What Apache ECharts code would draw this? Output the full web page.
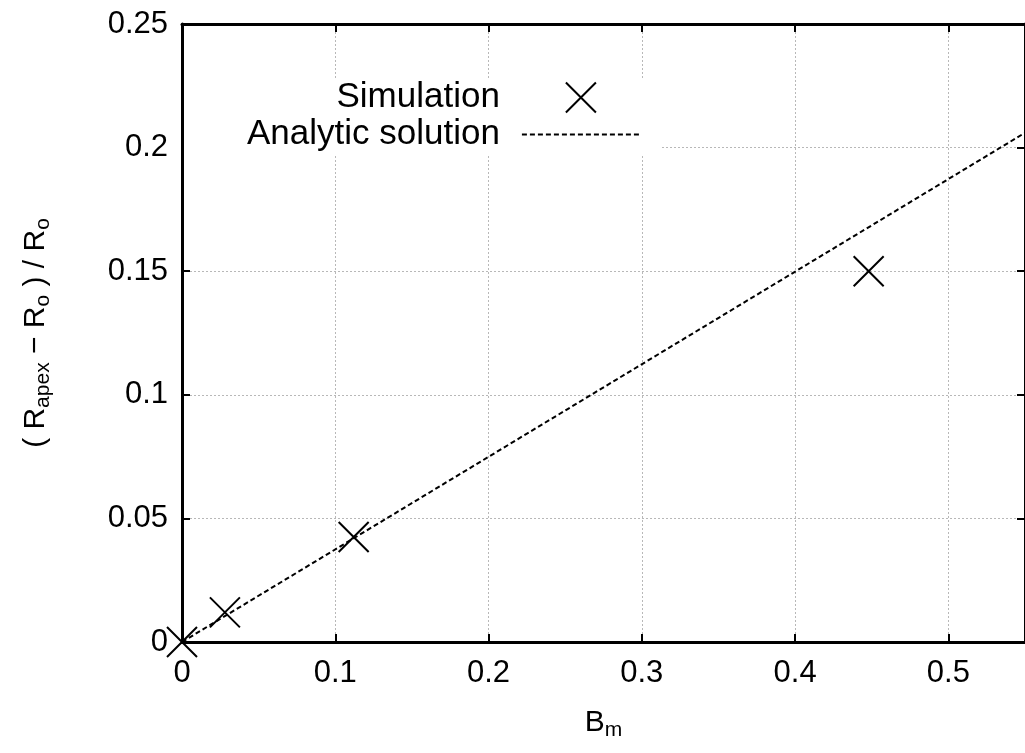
<!DOCTYPE html>
<html>
<head>
<meta charset="utf-8">
<script src="https://cdn.jsdelivr.net/npm/echarts@6/dist/echarts.min.js"></script>
<style>html,body{margin:0;padding:0;background:#fff;}#c{width:1025px;height:753px;}</style>
</head>
<body>
<div id="c"></div>
<script>
// Data
const simX = [0, 0.028, 0.112, 0.448];
const simY = [0, 0.012, 0.0425, 0.150];
const anaX = [0, 0.55];
const anaY = [0, 0.206];
const xTicks = [0, 0.1, 0.2, 0.3, 0.4, 0.5];
const yTicks = [0, 0.05, 0.1, 0.15, 0.2, 0.25];

const FONT = 'Liberation Sans, Arial, Helvetica, sans-serif';
const chart = echarts.init(document.getElementById('c'), null, {renderer: 'canvas'});

const simData = simX.map((x, i) => [x, simY[i]]);
const anaData = anaX.map((x, i) => [x, anaY[i]]);

const tickFmt = v => String(+v.toFixed(4));

const axisCommon = {
  type: 'value',
  axisLine: {show: true, onZero: false, lineStyle: {color: '#000', width: 3}},
  axisTick: {show: true, inside: true, length: 8, lineStyle: {color: '#000', width: 2}},
};

const option = {
  animation: false,
  backgroundColor: '#fff',
  grid: {left: 182, top: 24, bottom: 111, right: -5.5, containLabel: false},
  legend: {
    orient: 'vertical',
    align: 'right',
    left: 184,
    top: 80,
    padding: [0, 20, 2, 63],
    backgroundColor: '#fff',
    itemWidth: 118,
    itemHeight: 30,
    itemGap: 2,
    textStyle: {fontFamily: FONT, fontSize: 35, lineHeight: 30, color: '#000', padding: [0, 17, 0, 0]},
    data: [
      {name: 'Simulation'},
      {name: 'Analytic solution', itemStyle: {color: 'transparent', borderColor: 'transparent', borderWidth: 0}}
    ]
  },
  xAxis: [
    Object.assign({}, axisCommon, {
      position: 'bottom',
      min: 0, max: 0.55, interval: 0.1,
      name: '{n|B}{s|m}',
      nameLocation: 'middle',
      nameGap: 62,
      nameTextStyle: {
        rich: {
          n: {fontFamily: FONT, fontSize: 30, color: '#000'},
          s: {fontFamily: FONT, fontSize: 21, color: '#000', padding: [16, 0, 0, 0]}
        }
      },
      axisLabel: {showMaxLabel: false, margin: 16, fontFamily: FONT, fontSize: 31, color: '#000', formatter: tickFmt},
      splitLine: {show: true, lineStyle: {color: '#b8b8b8', width: 1, type: [2, 2]}}
    }),
    Object.assign({}, axisCommon, {
      position: 'top',
      min: 0, max: 0.55, interval: 0.1,
      axisLabel: {show: false},
      splitLine: {show: false}
    })
  ],
  yAxis: [
    Object.assign({}, axisCommon, {
      position: 'left',
      min: 0, max: 0.25, interval: 0.05,
      name: '( R{s|apex} − R{s|o} ) / R{s|o}',
      nameLocation: 'middle',
      nameGap: 128,
      nameTextStyle: {
        fontFamily: FONT, fontSize: 30, color: '#000',
        rich: {
          s: {fontFamily: FONT, fontSize: 21, color: '#000', padding: [16, 0, 0, 0]}
        }
      },
      axisLabel: {margin: 14, fontFamily: FONT, fontSize: 31, color: '#000', formatter: tickFmt},
      splitLine: {show: true, lineStyle: {color: '#b8b8b8', width: 1, type: [2, 2]}}
    }),
    Object.assign({}, axisCommon, {
      position: 'right',
      min: 0, max: 0.25, interval: 0.05,
      axisLabel: {show: false},
      splitLine: {show: false}
    })
  ],
  series: [
    {
      name: 'Simulation',
      type: 'scatter',
      data: simData,
      symbol: 'path://M0,0L10,10M10,0L0,10',
      symbolSize: 30,
      clip: false,
      z: 5,
      itemStyle: {color: 'none', borderColor: '#000', borderWidth: 2, opacity: 1}
    },
    {
      name: 'Analytic solution',
      type: 'line',
      data: anaData,
      symbol: 'none',
      z: 4,
      lineStyle: {color: '#000', width: 2, type: [5, 3]},
      itemStyle: {color: '#000'}
    }
  ]
};
chart.setOption(option);
</script>
</body>
</html>
